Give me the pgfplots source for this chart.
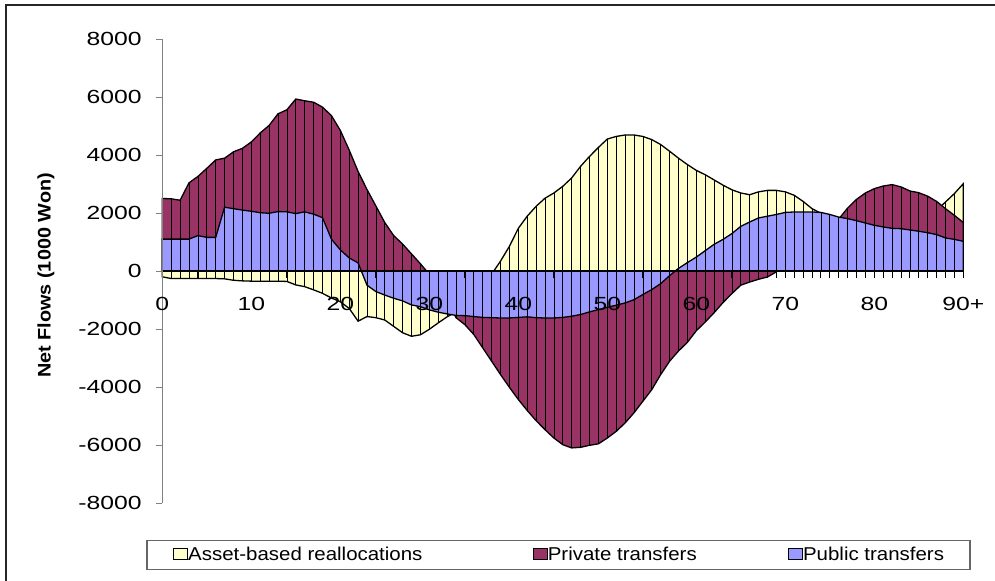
\documentclass[border=0pt]{standalone}
\usepackage{pgfplots}
\pgfplotsset{compat=1.18}
\usepackage{pgfplotstable}
\usepackage{fontspec}
\setmainfont{Liberation Sans}
\newfontfamily\tickfont{Liberation Sans}[FakeStretch=1.3]
\newfontfamily\legfont{Liberation Sans}[FakeStretch=1.1]
\newfontfamily\labfont{Liberation Sans}[FakeStretch=1.09]
\definecolor{cAsset}{HTML}{FFFFCC}
\definecolor{cPriv}{HTML}{993366}
\definecolor{cPub}{HTML}{9999FF}
\pgfplotstableread{
age asset private public
0 -190 2510 1110
1 -250 2500 1110
2 -250 2450 1110
3 -250 3050 1110
4 -250 3270 1230
5 -250 3550 1170
6 -250 3840 1170
7 -260 3900 2210
8 -310 4120 2160
9 -330 4240 2110
10 -340 4460 2070
11 -340 4770 2020
12 -340 5030 2000
13 -340 5430 2060
14 -350 5570 2050
15 -470 5940 1990
16 -530 5880 2050
17 -640 5830 1970
18 -760 5660 1850
19 -920 5370 1110
20 -1050 4860 740
21 -1280 4180 460
22 -1720 3440 290
23 -1560 2820 -480
24 -1600 2250 -700
25 -1680 1680 -820
26 -1900 1230 -930
27 -2120 940 -1020
28 -2240 600 -1160
29 -2190 260 -1220
30 -2000 -100 -1330
31 -1780 -500 -1410
32 -1570 -1000 -1470
33 -1400 -1600 -1520
34 -1100 -1840 -1530
35 -760 -2180 -1560
36 -450 -2640 -1590
37 -100 -3100 -1600
38 350 -3560 -1610
39 860 -4000 -1610
40 1480 -4420 -1590
41 1900 -4800 -1570
42 2240 -5150 -1600
43 2520 -5460 -1610
44 2700 -5750 -1610
45 2930 -5980 -1590
46 3220 -6090 -1550
47 3620 -6070 -1490
48 3960 -6000 -1400
49 4270 -5950 -1320
50 4560 -5750 -1240
51 4650 -5520 -1170
52 4700 -5230 -1090
53 4700 -4880 -980
54 4650 -4480 -800
55 4540 -4080 -630
56 4370 -3560 -425
57 4140 -3100 -150
58 3900 -2750 100
59 3680 -2450 300
60 3480 -2050 490
61 3330 -1750 710
62 3150 -1430 930
63 2970 -1080 1100
64 2810 -770 1300
65 2700 -480 1550
66 2640 -370 1700
67 2740 -275 1840
68 2790 -195 1900
69 2790 -20 1960
70 2740 200 2030
71 2620 400 2045
72 2410 600 2045
73 2160 900 2045
74 2000 1200 2030
75 1900 1500 1960
76 1800 1800 1870
77 1800 2180 1815
78 1850 2480 1745
79 1900 2700 1665
80 1950 2850 1585
81 2000 2940 1530
82 2000 2990 1480
83 2000 2910 1470
84 2000 2770 1425
85 2000 2710 1380
86 2050 2590 1330
87 2100 2410 1265
88 2390 2160 1150
89 2680 1930 1100
90 3020 1680 1035
}\data
\begin{document}
\begin{tikzpicture}
\useasboundingbox (0,0) rectangle (995bp,581bp);
\draw[line width=1.6bp, black!85] (6bp,0bp) -- (6bp,576bp) -- (995bp,576bp);
\begin{axis}[
  scale only axis, width=801bp, height=464bp,
  at={(162.3bp,77.7bp)}, anchor=south west,
  xmin=0, xmax=90, ymin=-8000, ymax=8000,
  axis x line=middle, axis y line=left,
  axis line style={-},
  x axis line style={black, line width=1.8bp},
  y axis line style={gray, line width=1.2bp},
  hide obscured x ticks=false,
  hide obscured y ticks=false,
  xtick={0,10,...,90},
  xticklabels={0,10,20,30,40,50,60,70,80,90+},
  minor x tick num=9,
  ytick={-8000,-6000,...,8000},
  yticklabels={-8000,-6000,-4000,-2000,0,2000,4000,6000,8000},
  tick align=center,
  major tick length=6.5bp, minor tick length=6.5bp,
  x tick style={black, line width=1bp, yshift=-3.25bp},
  y tick style={gray, line width=1.2bp, xshift=-3.25bp},
  ticklabel style={font=\tickfont\fontsize{19bp}{20bp}\selectfont},
  xticklabel style={yshift=-19bp},
  yticklabel style={xshift=-14bp},
  ylabel={Net Flows (1000 Won)},
  ylabel style={at={(axis description cs:-0.1452,0.491)}, anchor=center,
    font=\labfont\bfseries\fontsize{18.2bp}{20bp}\selectfont},
  axis on top,
  clip=false,
  legend columns=3,
  legend image code/.code={\draw[#1, draw=black, line width=1.3bp] (0bp,-4bp) rectangle (14bp,7bp);},
  legend style={at={(axis description cs:-0.02,-0.0791)}, anchor=north west,
    draw=black!60, line width=1.3bp, inner xsep=26bp, inner ysep=6bp,
    font=\legfont\fontsize{18.6bp}{20bp}\selectfont,
    column sep=0pt,
    nodes={inner sep=0pt, text height=13.5bp, text depth=3.5bp},
    /tikz/column 2/.style={column sep=110bp},
    /tikz/column 4/.style={column sep=91bp}},
  legend cell align=left,
]
\addplot[fill=cAsset, draw=black, line width=1.3bp] table[x=age,y=asset]{\data} \closedcycle;
\addlegendentry{Asset-based reallocations}
\addplot[fill=cPriv, draw=black, line width=1.3bp] table[x=age,y=private]{\data} \closedcycle;
\addlegendentry{Private transfers}
\addplot[fill=cPub, draw=black, line width=1.3bp] table[x=age,y=public]{\data} \closedcycle;
\addlegendentry{Public transfers\hspace{80bp}}
\addplot[ycomb, black, line width=0.8bp, forget plot] table[x=age,y=asset]{\data};
\addplot[ycomb, black, line width=0.8bp, forget plot] table[x=age,y=private]{\data};
\addplot[ycomb, black, line width=0.8bp, forget plot] table[x=age,y=public]{\data};
\end{axis}
\end{tikzpicture}
\end{document}
